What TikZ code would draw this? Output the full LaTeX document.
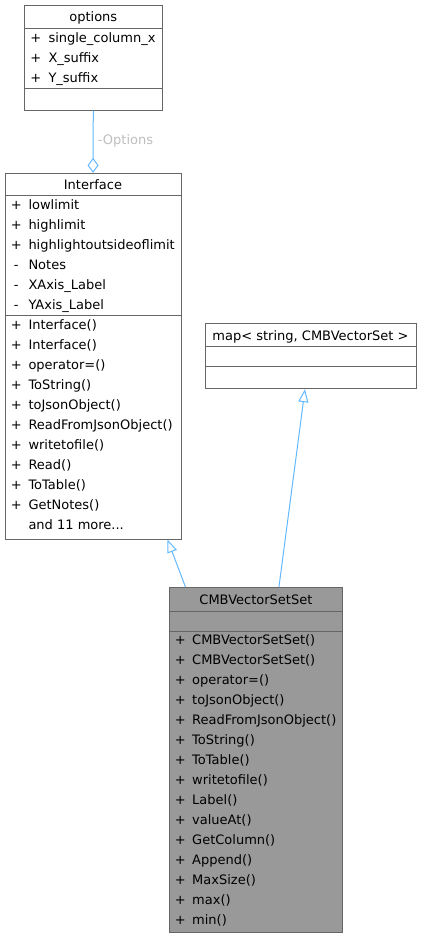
\documentclass[tikz,border=0pt]{standalone}
\usepackage{fontspec}
\setmainfont{DejaVu Sans}
\usetikzlibrary{arrows.meta}
\definecolor{edgeblue}{HTML}{63B8FF}
\definecolor{boxborder}{HTML}{666666}
\definecolor{boxfill}{HTML}{999999}
\definecolor{lblgray}{HTML}{BEBEBE}
\begin{document}
\begin{tikzpicture}[x=1pt,y=-1pt,
  box/.style={draw=boxborder, line width=1pt, fill=white, rectangle, inner sep=0pt},
  graybox/.style={box, fill=boxfill},
  umltxt/.style={anchor=base west, inner sep=0pt, font=\fontsize{13}{15}\selectfont},
  umlttl/.style={anchor=base, inner sep=0pt, font=\fontsize{13}{15}\selectfont},
  umlpfx/.style={anchor=base, inner sep=0pt, font=\fontsize{13}{15}\selectfont},
  sepline/.style={draw=boxborder, line width=1pt},
  umledge/.style={draw=edgeblue, line width=1pt},
  edgelbl/.style={anchor=base west, inner sep=0pt, text=lblgray, font=\fontsize{13}{15}\selectfont},
  inherit/.style={umledge, -{Triangle[open, length=13pt, width=10pt]}},
  aggreg/.style={umledge, -{Diamond[open, length=15pt, width=11pt]}}]
\useasboundingbox (0,0) rectangle (421,939);

% ---------- options ----------
\node[box, minimum width=138pt, minimum height=105pt] (options) at (93.3,57.7) {};
\draw[sepline] (options.west |- 0,28.3) -- (options.east |- 0,28.3);
\draw[sepline] (options.west |- 0,89) -- (options.east |- 0,89);
\node[umlttl] (optionsT) at (93.3,21.4) {options};
\foreach \t [count=\i from 0] in {single\_column\_x, X\_suffix, Y\_suffix} {
  \node[umlpfx] (optP\i) at (35.8,{42.4+20*\i}) {+};
  \node[umltxt] (optA\i) at (48.3,{42.4+20*\i}) {\t};
}

% ---------- Interface ----------
\node[box, minimum width=176pt, minimum height=365.7pt] (interface) at (93,356.2) {};
\draw[sepline] (interface.west |- 0,195.7) -- (interface.east |- 0,195.7);
\draw[sepline] (interface.west |- 0,315.7) -- (interface.east |- 0,315.7);
\node[umlttl] (interfaceT) at (93,189.2) {Interface};
\foreach \p/\t [count=\i from 0] in {+/lowlimit, +/highlimit, +/highlightoutsideoflimit, -/Notes, -/XAxis\_Label, -/YAxis\_Label} {
  \node[umlpfx] (ifP\i) at (16.3,{209+20*\i}) {\p};
  \node[umltxt] (ifA\i) at (28.3,{209+20*\i}) {\t};
}
\foreach \t [count=\i from 0] in {Interface(), Interface(), operator=(), ToString(), toJsonObject(), ReadFromJsonObject(), writetofile(), Read(), ToTable(), GetNotes()} {
  \node[umlpfx] (ifQ\i) at (16.3,{329.7+20*\i}) {+};
  \node[umltxt] (ifM\i) at (28.3,{329.7+20*\i}) {\t};
}
\node[umltxt] (ifMore) at (28.3,529.7) {and 11 more...};

% ---------- map ----------
\node[box, minimum width=211pt, minimum height=65.4pt] (map) at (310.5,356) {};
\draw[sepline] (map.west |- 0,346.7) -- (map.east |- 0,346.7);
\draw[sepline] (map.west |- 0,366.7) -- (map.east |- 0,366.7);
\node[umlttl] (mapT) at (310.5,340.2) {map< string, CMBVectorSet >};

% ---------- CMBVectorSetSet ----------
\node[graybox, minimum width=173.7pt, minimum height=344.6pt] (cmb) at (255.9,760) {};
\draw[sepline] (cmb.west |- 0,611) -- (cmb.east |- 0,611);
\draw[sepline] (cmb.west |- 0,631) -- (cmb.east |- 0,631);
\node[umlttl] (cmbT) at (255.9,604.4) {CMBVectorSetSet};
\foreach \t [count=\i from 0] in {CMBVectorSetSet(), CMBVectorSetSet(), operator=(), toJsonObject(), ReadFromJsonObject(), ToString(), ToTable(), writetofile(), Label(), valueAt(), GetColumn(), Append(), MaxSize(), max(), min()} {
  \node[umlpfx] (cmbP\i) at (180.3,{644.7+20*\i}) {+};
  \node[umltxt] (cmbM\i) at (192,{644.7+20*\i}) {\t};
}

% ---------- connectors ----------
\draw[aggreg] (options.south) -- (interface.north);
\node[edgelbl] (optLbl) at (97.7,144.5) {-Options};
\draw[inherit] ([xshift=17]cmb.north west) -- ([xshift=-14]interface.south east);
\draw[inherit] ([xshift=23]cmb.north) -- ([xshift=-5.5]map.south);
\end{tikzpicture}
\end{document}
